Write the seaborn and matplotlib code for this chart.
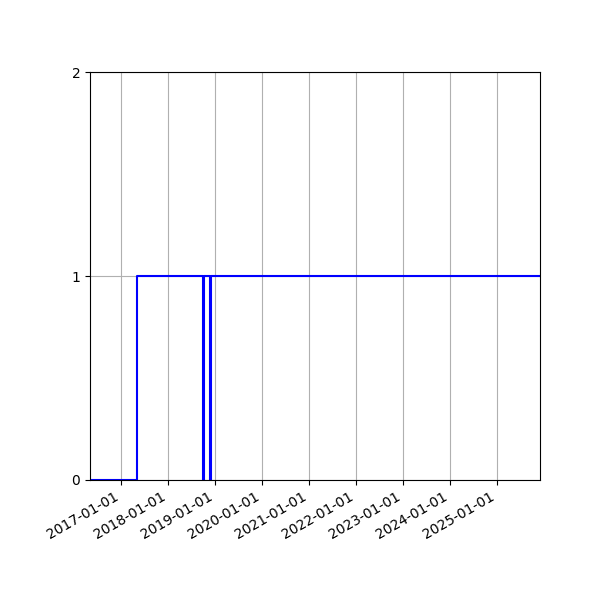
import pandas as pd
import matplotlib
matplotlib.use("Agg")
import matplotlib.pyplot as plt
import matplotlib.dates as mdates
import seaborn as sns

# state changes (steps-post)
dates = ["2016-05-03", "2017-05-05",
         "2018-10-01", "2018-10-05",
         "2018-11-24", "2018-11-28",
         "2025-12-01"]
values = [0, 1, 0, 1, 0, 1, 1]

df = pd.DataFrame({"date": pd.to_datetime(dates), "value": values})

fig, ax = plt.subplots(figsize=(6, 6), dpi=100)
sns.lineplot(x="date", y="value", data=df, drawstyle="steps-post",
             color="blue", linewidth=1.5, ax=ax)

ax.set_xlim(df["date"].min(), df["date"].max())
ax.set_ylim(0, 2)
ax.set_yticks([0, 1, 2])
ax.xaxis.set_major_locator(mdates.YearLocator())
ax.xaxis.set_major_formatter(mdates.DateFormatter("%Y-%m-%d"))
ax.grid(True, color="#b0b0b0", linewidth=0.8)
ax.set_xlabel("")
ax.set_ylabel("")
fig.autofmt_xdate()
plt.subplots_adjust(left=0.15, right=0.9, top=0.88, bottom=0.2)
plt.savefig("out.png")
